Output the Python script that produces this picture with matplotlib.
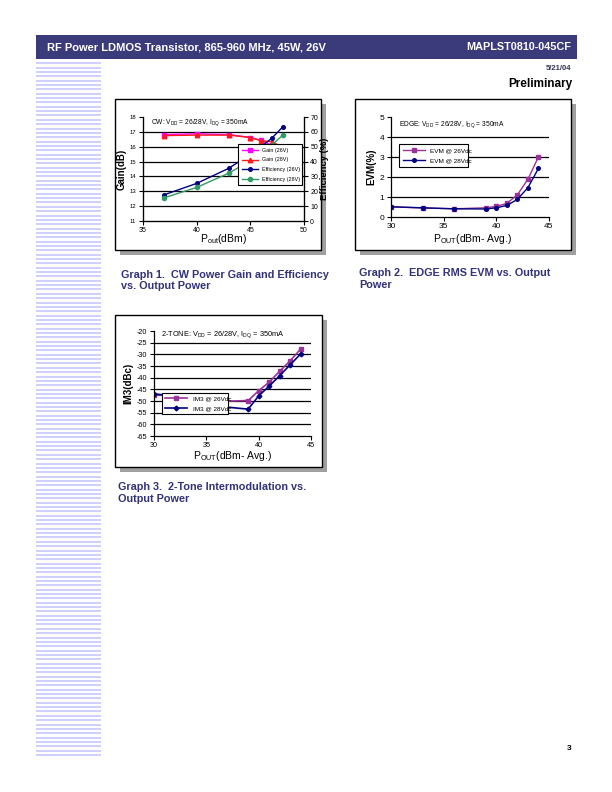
import matplotlib
matplotlib.use('Agg')
import matplotlib.pyplot as plt
from matplotlib.patches import Rectangle

plt.rcParams['font.family'] = ['Liberation Sans', 'DejaVu Sans']
plt.rcParams['axes.unicode_minus'] = False

# ---------------- data ----------------
g1_pout = [37, 40, 43, 45, 46, 47, 48]
gain_26 = [16.82, 16.87, 16.82, 16.62, 16.42, 16.10, 15.54]
gain_28 = [16.75, 16.78, 16.78, 16.62, 16.40, 16.33, 15.98]
eff_26 = [17.7, 25.3, 35.5, 45.0, 50.1, 55.7, 63.2]
eff_28 = [15.7, 22.6, 32.2, 40.6, 45.2, 51.2, 57.6]

evm_pout = [30, 33, 36, 39, 40, 41, 42, 43, 44]
evm_26 = [0.51, 0.45, 0.41, 0.46, 0.53, 0.68, 1.11, 1.89, 3.01]
evm_28 = [0.51, 0.46, 0.41, 0.40, 0.46, 0.58, 0.88, 1.47, 2.43]

im3_pout = [30, 33, 36, 39, 40, 41, 42, 43, 44]
im3_26 = [-47.4, -48.0, -50.2, -49.8, -45.6, -41.9, -37.3, -32.8, -27.8]
im3_28 = [-47.0, -48.1, -52.2, -53.5, -47.8, -43.6, -39.2, -34.5, -29.9]

gain_ticks = [11, 12, 13, 14, 15, 16, 17, 18]
eff_ticks = [0, 10, 20, 30, 40, 50, 60, 70]
g1_xticks = [35, 40, 45, 50]
evm_ticks = [0, 1, 2, 3, 4, 5]
im3_ticks = [-65, -60, -55, -50, -45, -40, -35, -30, -25, -20]
avg_xticks = [30, 35, 40, 45]

# ---------------- page ----------------
W, H = 612, 792
fig = plt.figure(figsize=(6.12, 7.92), dpi=100)
fig.patch.set_facecolor('white')

NAVY = '#3b3b7b'
CAP = '#333377'


def fr(x, y, w, h):
    return [x / W, 1 - (y + h) / H, w / W, h / H]


def rect(x, y, w, h, z=-1, **kw):
    r = Rectangle((x / W, 1 - (y + h) / H), w / W, h / H,
                  transform=fig.transFigure, zorder=z, **kw)
    fig.add_artist(r)


def ftext(x, y, s, **kw):
    fig.text(x / W, 1 - y / H, s, **kw)


# header bar
rect(36, 35, 541, 24, facecolor=NAVY, edgecolor='none')
ftext(47, 47, 'RF Power LDMOS Transistor, 865-960 MHz, 45W, 26V', color='white',
      fontsize=8.0, fontweight='bold', va='center', ha='left')
ftext(571, 47, 'MAPLST0810-045CF', color='white', fontsize=7.8,
      fontweight='bold', va='center', ha='right')
ftext(571, 69, '5/21/04', color='#333355', fontsize=5.5, fontweight='bold',
      va='center', ha='right')
ftext(572, 84, 'Preliminary', color='black', fontsize=8.5, fontweight='bold',
      va='center', ha='right')
ftext(571, 748, '3', color='black', fontsize=6, fontweight='bold',
      va='center', ha='right')

# left stripes
y = 63.3
while y < 757:
    rect(36, round(y) - 1, 65, 2, facecolor='#d0d0ff', edgecolor='none')
    y += 4.35

# boxes with shadows
for (bx, by, bw, bh) in [(115, 99, 206, 151), (355, 99, 216, 151), (115, 315, 207, 152)]:
    rect(bx + 5, by + 5, bw, bh, z=-3, facecolor='#a0a0a0', edgecolor='none')
    rect(bx, by, bw, bh, z=-2, facecolor='white', edgecolor='black', linewidth=1.0)

# captions
CFS = 7.8
ftext(121, 275, 'Graph 1.  CW Power Gain and Efficiency', color=CAP, fontsize=CFS,
      fontweight='bold', va='center')
ftext(121, 286, 'vs. Output Power', color=CAP, fontsize=CFS, fontweight='bold', va='center')
ftext(359, 273, 'Graph 2.  EDGE RMS EVM vs. Output', color=CAP, fontsize=CFS,
      fontweight='bold', va='center')
ftext(359, 285, 'Power', color=CAP, fontsize=CFS, fontweight='bold', va='center')
ftext(118, 487, 'Graph 3.  2-Tone Intermodulation vs.', color=CAP, fontsize=CFS,
      fontweight='bold', va='center')
ftext(118, 499, 'Output Power', color=CAP, fontsize=CFS, fontweight='bold', va='center')


def style(ax, right=False):
    ax.set_facecolor('none')
    ax.spines['top'].set_visible(False)
    ax.spines['right'].set_visible(right)
    for s in ax.spines.values():
        s.set_linewidth(0.9)
    ax.yaxis.grid(True, color='black', linewidth=0.9)
    ax.set_axisbelow(True)
    ax.tick_params(length=3, width=0.8, pad=2)
    ax.tick_params(axis='x', pad=1.5)


# ---------------- Graph 1 ----------------
ax1 = fig.add_axes(fr(143, 117, 161, 104))
style(ax1, right=True)
ax1.set_xlim(35, 50)
ax1.set_ylim(11, 18)
ax1.set_xticks(g1_xticks)
ax1.set_yticks(gain_ticks)
ax1.tick_params(axis='y', labelsize=4.2)
ax1.tick_params(axis='x', labelsize=5)
fig.canvas.draw()
ax1.get_ygridlines()[-1].set_visible(False)
ax1.get_ygridlines()[0].set_visible(False)
ax1b = ax1.twinx()
ax1b.set_ylim(0, 70)
ax1b.set_yticks(eff_ticks)
ax1b.spines['top'].set_visible(False)
ax1b.tick_params(axis='y', labelsize=5, length=3, width=0.8, pad=1.5)

l1, = ax1.plot(g1_pout, gain_26, color='#ff00ff', marker='s', markersize=3.2, lw=1.0,
               label='Gain (26V)')
l2, = ax1.plot(g1_pout, gain_28, color='#ff1a1a', marker='^', markersize=3.2, lw=1.0,
               label='Gain (28V)')
l3, = ax1b.plot(g1_pout, eff_26, color='#000080', marker='o', markersize=2.6, lw=1.0,
                label='Efficiency (26V)')
l4, = ax1b.plot(g1_pout, eff_28, color='#339966', marker='o', markersize=3.0, lw=1.0,
                label='Efficiency (28V)')
leg = ax1b.legend(handles=[l1, l2, l3, l4], loc='upper left', bbox_to_anchor=(0.59, 0.385, 0.40, 0.355),
                  mode='expand', fontsize=3.9, frameon=True, fancybox=False, framealpha=1,
                  edgecolor='black', handlelength=3.0, borderpad=0.7, labelspacing=0.85,
                  handletextpad=0.8, borderaxespad=0)
leg.get_frame().set_linewidth(0.8)

ax1.text(0.048, 0.945, r'CW: V$_\mathregular{DD}$ = 26/28V, I$_\mathregular{DQ}$ = 350mA',
         transform=ax1.transAxes, fontsize=4.8, va='center', ha='left')
ax1.text(-0.135, 0.5, 'Gain(dB)', transform=ax1.transAxes, rotation=90, fontsize=7,
         fontweight='bold', va='center', ha='center')
ax1.text(1.128, 0.5, 'Efficiency (%)', transform=ax1.transAxes, rotation=90, fontsize=6.8,
         fontweight='bold', va='center', ha='center')
ax1.text(0.5, -0.17, r'P$_\mathregular{out}$(dBm)', transform=ax1.transAxes, fontsize=7.5,
         va='center', ha='center')

# ---------------- Graph 2 ----------------
ax2 = fig.add_axes(fr(391, 117, 158, 100))
style(ax2)
ax2.set_xlim(30, 45)
ax2.set_ylim(0, 5)
ax2.set_xticks(avg_xticks)
ax2.set_yticks(evm_ticks)
ax2.tick_params(labelsize=6)
fig.canvas.draw()
ax2.get_ygridlines()[-1].set_visible(False)
ax2.get_ygridlines()[0].set_visible(False)
e1, = ax2.plot(evm_pout, evm_26, color='#993399', marker='s', markersize=2.6, lw=1.0,
               label='EVM @ 26Vdc')
e2, = ax2.plot(evm_pout, evm_28, color='#000080', marker='o', markersize=2.6, lw=1.0,
               label='EVM @ 28Vdc')
leg2 = ax2.legend(handles=[e1, e2], loc='upper left', bbox_to_anchor=(0.05, 0.51, 0.44, 0.22),
                  mode='expand', fontsize=4.6, frameon=True, fancybox=False, framealpha=1,
                  edgecolor='black', handlelength=3.5, borderpad=0.6, labelspacing=0.7,
                  handletextpad=0.8, borderaxespad=0)
leg2.get_frame().set_linewidth(0.8)
ax2.text(0.05, 0.92, r'EDGE: V$_\mathregular{DD}$ = 26/28V, I$_\mathregular{DQ}$ = 350mA',
         transform=ax2.transAxes, fontsize=4.8, va='center', ha='left')
ax2.text(-0.127, 0.5, 'EVM(%)', transform=ax2.transAxes, rotation=90, fontsize=7,
         fontweight='bold', va='center', ha='center')
ax2.text(0.52, -0.22, r'P$_\mathregular{OUT}$(dBm- Avg.)', transform=ax2.transAxes,
         fontsize=7.5, va='center', ha='center')

# ---------------- Graph 3 ----------------
ax3 = fig.add_axes(fr(154, 331, 157, 105))
style(ax3)
ax3.set_xlim(30, 45)
ax3.set_ylim(-65, -20)
ax3.set_xticks(avg_xticks)
ax3.set_yticks(im3_ticks)
ax3.tick_params(labelsize=5.2)
fig.canvas.draw()
ax3.get_ygridlines()[-1].set_visible(False)
ax3.get_ygridlines()[0].set_visible(False)
i1, = ax3.plot(im3_pout, im3_26, color='#993399', marker='s', markersize=3.0, lw=1.2,
               label='IM3 @ 26Vdc')
i2, = ax3.plot(im3_pout, im3_28, color='#000080', marker='D', markersize=2.4, lw=1.2,
               label='IM3 @ 28Vdc')
leg3 = ax3.legend(handles=[i1, i2], loc='upper left', bbox_to_anchor=(0.05, 0.22, 0.42, 0.19),
                  mode='expand', fontsize=4.6, frameon=True, fancybox=False, framealpha=1,
                  edgecolor='black', handlelength=3.5, borderpad=0.5, labelspacing=0.6,
                  handletextpad=0.8, borderaxespad=0)
leg3.get_frame().set_linewidth(0.8)
ax3.text(0.045, 0.97, r'2-TONE: V$_\mathregular{DD}$ = 26/28V, I$_\mathregular{DQ}$ = 350mA',
         transform=ax3.transAxes, fontsize=5.3, va='center', ha='left')
ax3.text(-0.165, 0.5, 'IM3(dBc)', transform=ax3.transAxes, rotation=90, fontsize=7,
         fontweight='bold', va='center', ha='center')
ax3.text(0.5, -0.195, r'P$_\mathregular{OUT}$(dBm- Avg.)', transform=ax3.transAxes,
         fontsize=7.5, va='center', ha='center')

fig.savefig('out.png', dpi=100)
